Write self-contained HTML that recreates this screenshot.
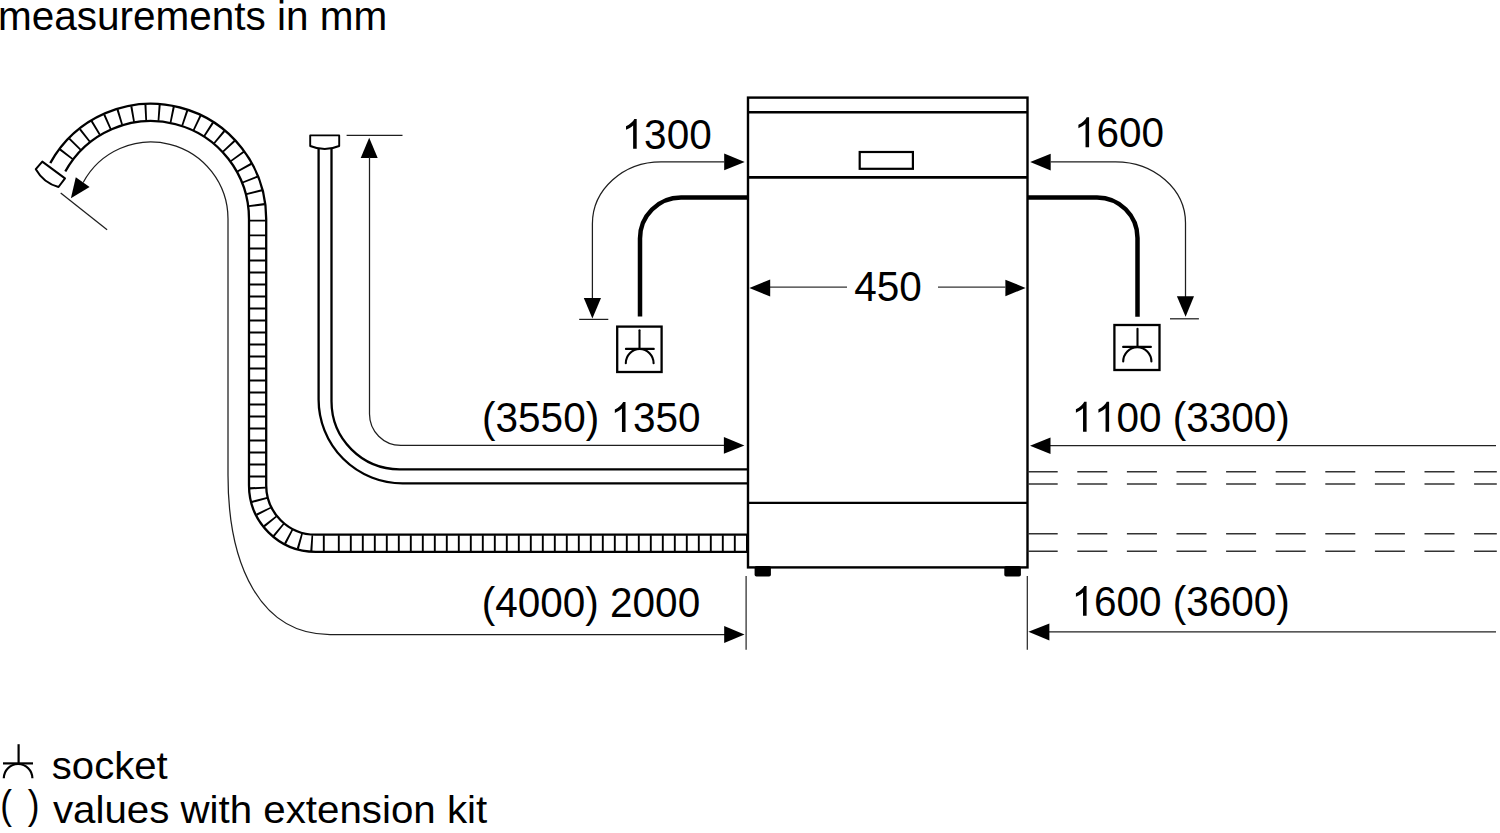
<!DOCTYPE html>
<html><head><meta charset="utf-8"><title>Dishwasher connection dimensions</title>
<style>
html,body{margin:0;padding:0;background:#fff;overflow:hidden}
svg{display:block}
text{font-family:"Liberation Sans",sans-serif;font-size:40.5px;fill:#000;font-kerning:none}
</style></head><body>
<svg width="1500" height="833" viewBox="0 0 1500 833">
<rect width="1500" height="833" fill="#fff"/>
<defs>
<path id="one" d="M763 0 L583 0 L583 1147 C540 1106 483 1064 413 1023 C342 982 279 951 223 930 L223 1104 C323 1151 410 1208 485 1275 C560 1342 613 1407 644 1466 L763 1466 Z"/>
</defs>


<!-- title -->
<text x="-2.1" y="29.5">measurements in mm</text>

<!-- ============ inlet hose ============ -->
<g fill="none">
  <path d="M318.6 146 V399.4 A84 84 0 0 0 402.6 483.4 H748" stroke="#000" stroke-width="2.3"/>
  <path d="M331.5 146 V401.3 A68 68 0 0 0 399.5 469.3 H748" stroke="#000" stroke-width="2.3"/>
</g>
<path d="M310.2 135.4 H339.2 V146 A37.7 37.7 0 0 1 310.2 146 Z" fill="#fff" stroke="#000" stroke-width="1.9" stroke-linejoin="round"/>

<!-- ============ drain hose ============ -->
<g fill="none">
  <path d="M748 543.3 H315.6 A58 58 0 0 1 257.6 485.3 V219 A106.6 106.6 0 0 0 57.77 167.32" stroke="#000" stroke-width="19.5"/>
  <path d="M746 543.3 H315.6 A58 58 0 0 1 257.6 485.3 V219 A106.6 106.6 0 0 0 57.23 168.3" stroke="#fff" stroke-width="14.9"/>
  <g stroke="#000" stroke-width="16" stroke-dasharray="1.9 10.2">
    <path d="M745 543.3 H333" stroke-dasharray="1.9 10.1" stroke-dashoffset="2.75"/>
    <path d="M333 543.3 H315.6 A58 58 0 0 1 257.6 485.3" stroke-dasharray="1.9 10.15" stroke-dashoffset="3.8"/>
    <path d="M257.6 485.3 V242" stroke-dasharray="1.9 10.1" stroke-dashoffset="4.15"/>
    <path d="M257.6 242 V219" stroke-dasharray="1.9 12.9" stroke-dashoffset="9.15"/>
    <path d="M257.535 215.28 A106.6 106.6 0 0 0 62.63 159.39" stroke-dasharray="1.9 11.31" stroke-dashoffset="3.93"/>
  </g>
</g>
<path d="M42.3 161.6 L65 178.4 L58.5 187 Q43.6 182.9 35.8 169.2 Z" fill="#fff" stroke="#000" stroke-width="2" stroke-linejoin="round"/>

<!-- drain dimension thin line -->
<path d="M83.2 182.5 A77 77 0 0 1 228 219 V475 C228 565 260 634.5 330 634.5 H725" fill="none" stroke="#1e1e1e" stroke-width="1.25"/>
<polygon points="70.9,198.3 75.8,177.3 89.6,187" fill="#000"/>
<line x1="60.7" y1="192.9" x2="107.1" y2="229.7" stroke="#1e1e1e" stroke-width="1.25"/>

<!-- 1350 dimension -->
<line x1="346.6" y1="135.4" x2="402.5" y2="135.4" stroke="#1e1e1e" stroke-width="1.25"/>
<polygon points="369.2,137.8 360.7,158 377.7,158" fill="#000"/>
<path d="M369.5 157 V414 A31.4 31.4 0 0 0 400.9 445.4 H725" fill="none" stroke="#1e1e1e" stroke-width="1.25"/>
<polygon points="744.4,445.4 723.9,437.1 723.9,453.7" fill="#000"/>

<!-- ============ dishwasher body ============ -->
<g fill="none" stroke="#000">
  <rect x="748" y="97.6" width="279.5" height="469.8" stroke-width="2.4"/>
  <line x1="748" y1="112.2" x2="1027.5" y2="112.2" stroke-width="2.5"/>
  <line x1="748" y1="177.4" x2="1027.5" y2="177.4" stroke-width="2.6"/>
  <line x1="748" y1="502.9" x2="1027.5" y2="502.9" stroke-width="2.4"/>
  <rect x="859.7" y="152" width="53.2" height="16.8" stroke-width="2.2"/>
</g>
<rect x="754.6" y="566" width="16.3" height="10.5" rx="1.8" fill="#000"/>
<rect x="1004.3" y="566" width="16.6" height="10.5" rx="1.8" fill="#000"/>

<!-- power cords -->
<g fill="none" stroke="#000" stroke-width="4.5">
  <path d="M748 197.5 H681 A41 41 0 0 0 640 238.5 V316.5"/>
  <path d="M1027.5 197.4 H1097 A40.5 40.5 0 0 1 1137.5 237.9 V316.8"/>
</g>

<!-- sockets -->
<g fill="none" stroke="#000">
  <rect x="617.2" y="326.6" width="44.4" height="45.4" stroke-width="2.3"/>
  <rect x="1114.4" y="325" width="45.1" height="45" stroke-width="2.3"/>
</g>
<g fill="none" stroke="#000" stroke-width="2.1" stroke-linecap="round">
  <line x1="639.5" y1="330.3" x2="639.5" y2="348.9"/>
  <line x1="625.9" y1="348.9" x2="653.8" y2="348.9"/>
  <path d="M625.8 363.2 A13.9 14.2 0 0 1 653.6 363.2"/>
  <line x1="1137.5" y1="328.7" x2="1137.5" y2="346.9"/>
  <line x1="1123.1" y1="346.9" x2="1150.9" y2="346.9"/>
  <path d="M1123.2 361.5 A14.1 14.3 0 0 1 1151.4 361.5"/>
</g>

<!-- 1300 dimension -->
<path d="M724.2 161.9 H661 A68.6 62 0 0 0 592.4 223.9 V299" fill="none" stroke="#1e1e1e" stroke-width="1.25"/>
<polygon points="744.7,161.9 724.2,153.6 724.2,170.2" fill="#000"/>
<polygon points="592.4,318.6 583.8,298.1 601,298.1" fill="#000"/>
<line x1="579.2" y1="319.4" x2="608.3" y2="319.4" stroke="#1e1e1e" stroke-width="1.25"/>

<!-- 1600 dimension (top right) -->
<path d="M1050.7 161.9 H1115.6 A69.9 61.1 0 0 1 1185.5 223 V297" fill="none" stroke="#1e1e1e" stroke-width="1.25"/>
<polygon points="1030.2,161.9 1050.7,153.7 1050.7,170.5" fill="#000"/>
<polygon points="1185.6,316.8 1176.9,296.3 1194,296.3" fill="#000"/>
<line x1="1170" y1="318.8" x2="1198.9" y2="318.8" stroke="#1e1e1e" stroke-width="1.25"/>

<!-- 450 dimension -->
<g stroke="#333" stroke-width="1.3">
  <line x1="770" y1="287.2" x2="847" y2="287.2"/>
  <line x1="938" y1="287.2" x2="1005.4" y2="287.2"/>
</g>
<polygon points="749.4,287.9 770.2,279.6 770.2,296.6" fill="#000"/>
<polygon points="1025.6,287.9 1005.4,279.8 1005.4,296.3" fill="#000"/>

<!-- left texts -->
<polygon points="744.5,634.5 724.2,626.1 724.2,642.9" fill="#000"/>

<!-- extension lines below body -->
<g stroke="#222" stroke-width="1.2">
  <line x1="746.1" y1="576" x2="746.1" y2="649.7"/>
  <line x1="1027.3" y1="576" x2="1027.3" y2="649.7"/>
</g>

<!-- right side dims -->
<g stroke="#222" stroke-width="1.2">
  <line x1="1050" y1="445.6" x2="1496" y2="445.6"/>
  <line x1="1049" y1="631.8" x2="1496" y2="631.8"/>
</g>
<polygon points="1030,445.8 1050.5,437.5 1050.5,454.1" fill="#000"/>
<polygon points="1028.4,631.8 1049.4,623.6 1049.4,640.4" fill="#000"/>

<!-- dashed continuation lines -->
<g stroke="#333" stroke-width="1.4" stroke-dasharray="30 19.6">
  <line x1="1027.7" y1="471.8" x2="1496.8" y2="471.8"/>
  <line x1="1027.7" y1="484" x2="1496.8" y2="484"/>
  <line x1="1027.7" y1="533.8" x2="1496.8" y2="533.8"/>
  <line x1="1027.7" y1="551.2" x2="1496.8" y2="551.2"/>
</g>

<!-- dimension labels -->
<text transform="translate(621.6 148.8) scale(1 1.032)">&#8199;300</text>
<use href="#one" transform="translate(621.60 148.8) scale(0.019775 -0.020408)"/>
<text transform="translate(1074 147.2) scale(1 1.032)">&#8199;600</text>
<use href="#one" transform="translate(1074.00 147.2) scale(0.019775 -0.020408)"/>
<text transform="translate(854.2 301) scale(1 1.032)">450</text>
<text transform="translate(482.1 432) scale(1 1.032)">(3550) &#8199;350</text>
<use href="#one" transform="translate(610.42 432) scale(0.019775 -0.020408)"/>
<text transform="translate(1071.5 431.7) scale(1 1.032)">&#8199;&#8199;00 (3300)</text>
<use href="#one" transform="translate(1071.50 431.7) scale(0.019775 -0.020408)"/>
<use href="#one" transform="translate(1094.02 431.7) scale(0.019775 -0.020408)"/>
<text transform="translate(481.8 617.1) scale(1 1.032)">(4000) 2000</text>
<text transform="translate(1071.5 615.8) scale(1 1.032)">&#8199;600 (3600)</text>
<use href="#one" transform="translate(1071.50 615.8) scale(0.019775 -0.020408)"/>

<!-- legend -->
<g fill="none" stroke="#000" stroke-width="2.2">
  <line x1="18.6" y1="744.2" x2="18.6" y2="763.4"/>
  <line x1="3" y1="763.4" x2="33" y2="763.4"/>
  <path d="M3.8 778.3 A14.3 14.3 0 0 1 32.4 778.3"/>
</g>
<text transform="translate(51.8 779.4) scale(0.99 0.975)">socket</text>
<text transform="translate(0.32 819) scale(0.87 1)">(</text>
<text transform="translate(27.8 819) scale(0.87 1)">)</text>
<text transform="translate(52.9 822.6) scale(0.995 0.975)">values with extension kit</text>
</svg>
</body></html>
